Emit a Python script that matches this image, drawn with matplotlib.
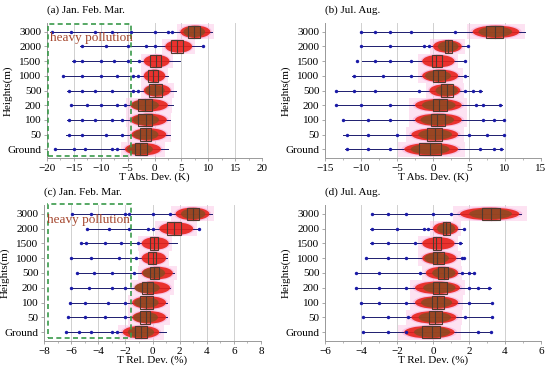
"""
Temperature deviation by height: winter (Jan-Mar) vs summer (Jul-Aug),
absolute (K) and relative (%) deviations, box + swarm + outliers per level.
"""
import numpy as np
import matplotlib.pyplot as plt
from matplotlib.patches import Rectangle, Ellipse

plt.rcParams["font.family"] = ["Liberation Serif", "DejaVu Serif"]

heights = ["Ground", "50", "100", "200", "500", "1000", "1500", "2000", "3000"]

# --- (a) Jan. Feb. Mar., absolute deviation (K); rows Ground -> 3000
a_q1 = [-3.6, -2.7, -3.1, -3.1, -1.0, -1.2, -0.8, 3.1, 6.3]
a_med = [-2.7, -1.6, -1.6, -1.7, 0.1, -0.2, 0.3, 4.2, 7.4]
a_q3 = [-1.4, -0.7, -0.5, -0.5, 1.4, 0.7, 1.2, 5.3, 8.4]
a_lo = [-18.5, -16.4, -16.3, -15.6, -16.3, -17.2, -15.4, -13.8, -19.4]
a_hi = [2.6, 2.8, 2.9, 3.5, 4.0, 2.6, 4.8, 9.1, 10.7]
a_core_lo = [-5.5, -4.3, -4.5, -4.5, -2.0, -2.0, -2.0, 2.0, 4.8]
a_core_hi = [1.2, 2.2, 2.3, 2.5, 3.0, 2.0, 2.8, 7.0, 10.4]
a_out = [[-18.5, -15, -13, -8, -7],
         [-16, -13.5, -9, -6],
         [-16, -13.5, -11, -8, -6],
         [-15.5, -12.5, -10, -7, -5.5],
         [-16, -13.5, -11, -8, -4, -3],
         [-17, -13.5, -10, -7, -4, -3],
         [-15, -13.5, -10, -7.5, -5, -2.8],
         [-13.5, -9, -5, -1.5, 0, 9],
         [-19, -15.5, -11, -8, -4.3, 0, 2.5, 3.2]]

# --- (b) Jul. Aug., absolute deviation (K)
b_q1 = [-1.9, -0.8, -0.3, 0.0, 1.1, 0.0, -0.1, 1.6, 7.35]
b_med = [-0.4, 0.3, 0.6, 0.8, 1.9, 0.7, 0.4, 2.1, 8.65]
b_q3 = [1.1, 1.2, 1.6, 1.9, 2.8, 1.7, 1.3, 2.6, 9.7]
b_lo = [-12.2, -12.5, -12.7, -13.6, -13.6, -11.3, -9.8, -10.0, -9.8]
b_hi = [9.7, 9.9, 9.9, 9.6, 6.8, 4.8, 4.6, 4.9, 12.8]
b_core_lo = [-4.0, -3.0, -2.5, -2.5, -0.5, -1.5, -1.5, 0.0, 5.5]
b_core_hi = [3.5, 3.5, 4.0, 4.0, 3.8, 3.5, 3.0, 4.0, 12.0]
b_out = [[-12, -9, -6, 6.5, 8.5, 9.5],
         [-12, -9, -5, 5, 7.5, 9.8],
         [-12.5, -9, -6, 7, 8.5, 9.8],
         [-13.5, -10, -6, 6, 7, 9.3],
         [-13.5, -11, -8, -2, 4.5, 5.5, 6.5],
         [-11, -7, -3, 4.5],
         [-10.5, -8, -6, -3, 4.5],
         [-10, -6, -1.2, -0.5, 4.8],
         [-10, -8, -6, -3, 3]]

# --- (c) Jan. Feb. Mar., relative deviation (%)
c_q1 = [-1.3, -0.9, -0.9, -0.75, -0.2, -0.3, -0.15, 1.1, 2.55]
c_med = [-0.85, -0.5, -0.45, -0.4, 0.1, 0.0, 0.1, 1.6, 3.0]
c_q3 = [-0.4, -0.15, 0.0, 0.02, 0.5, 0.27, 0.4, 2.1, 3.4]
c_lo = [-6.4, -6.2, -6.1, -6.0, -5.6, -6.1, -5.3, -4.8, -5.9]
c_hi = [1.0, 1.1, 1.1, 1.3, 1.6, 1.1, 1.8, 3.4, 4.4]
c_core_lo = [-2.2, -1.5, -1.5, -1.3, -0.8, -0.8, -0.8, 0.5, 1.7]
c_core_hi = [0.5, 1.0, 1.0, 1.3, 1.5, 1.0, 1.2, 3.0, 4.2]
c_out = [[-6.4, -5.4, -4.5, -3, -2.6],
         [-6.2, -5, -3.5, -2],
         [-6.1, -5, -3.3, -2],
         [-6, -4.7, -3, -2],
         [-5.6, -4.3, -3, -1.4],
         [-6, -4.5, -2.5, -1.2],
         [-5.3, -4.9, -3.5, -2.3, -1.1],
         [-4.8, -3.2, -1.7, -0.3, 0, 3.4],
         [-5.9, -4.5, -2, -1.7, 0, 1.3]]

# --- (d) Jul. Aug., relative deviation (%)
d_q1 = [-0.6, -0.25, -0.05, 0.0, 0.3, 0.0, 0.0, 0.55, 2.7]
d_med = [-0.05, 0.1, 0.2, 0.35, 0.6, 0.2, 0.15, 0.73, 3.2]
d_q3 = [0.4, 0.5, 0.6, 0.75, 0.85, 0.6, 0.45, 0.95, 3.7]
d_lo = [-3.9, -3.9, -4.05, -4.3, -4.3, -3.7, -3.5, -3.5, -3.4]
d_hi = [3.15, 3.35, 3.35, 3.2, 2.3, 1.7, 1.6, 1.75, 4.9]
d_core_lo = [-1.6, -1.2, -1.0, -1.0, -0.4, -0.6, -0.6, 0.0, 1.5]
d_core_hi = [1.2, 1.3, 1.4, 1.5, 1.4, 1.3, 1.2, 1.4, 4.8]
d_out = [[-3.9, -2.5, -1.5, 2.5, 3.2],
         [-3.9, -2.5, -1.4, 1.8, 3.3],
         [-4, -3, -1.5, 2, 3.3],
         [-4.3, -3, -1.5, 2, 2.5, 3.1],
         [-4.3, -3, -0.7, 1.6, 2, 2.3],
         [-3.7, -2.5, -1.5, 1.6, 1.7],
         [-3.4, -2.5, -1, 1.5],
         [-3.4, -2, -0.5, -0.3, 1.7],
         [-3.4, -2.5, -1.5, 0, 1]]

# whether the swarm centre looks brown (True) or plain red (False); style only
win_brown = [True, True, True, True, True, False, False, False, True]
sum_brown = [True, True, True, True, True, True, False, True, True]
RED, BROWN, PINK = "#e8231a", "#8b4a22", "#fbc0e3"

fig = plt.figure(figsize=(5.5, 3.7), dpi=100)
W, H = 550, 370


def px_axes(l, t, r, b):
    return fig.add_axes([l / W, 1 - b / H, (r - l) / W, (b - t) / H])


def panel(ax, q1, med, q3, lo, hi, clo, chi, outs, brown, xlim, xticks, xlabel, title):
    ys = np.arange(len(heights))
    for y in ys:
        span = chi[y] - clo[y]
        cx = (chi[y] + clo[y]) / 2
        ax.add_patch(Rectangle((clo[y] - span * 0.12, y - 0.5), span * 1.24, 1.0,
                               fc=PINK, ec="none", alpha=0.45, zorder=1))
        ax.add_patch(Ellipse((cx, y), span * 1.1, 1.0, fc=PINK, ec="none", zorder=1))
        ax.plot([lo[y], hi[y]], [y, y], color="#1c1c6e", lw=0.7, zorder=2)
        ax.add_patch(Ellipse((cx, y), span, 0.85, fc=RED, ec="none", alpha=0.9, zorder=3))
        if brown[y]:
            ax.add_patch(Ellipse((med[y], y), span * 0.72, 0.72, fc=BROWN, ec="none",
                                 alpha=0.85, zorder=3))
        ax.scatter(outs[y], [y] * len(outs[y]), s=6, color="#1a1aa8", lw=0, zorder=4)
        ax.add_patch(Rectangle((q1[y], y - 0.42), q3[y] - q1[y], 0.84, fc="none",
                               ec="#4e3a30", lw=0.8, zorder=5))
        ax.plot([med[y], med[y]], [y - 0.42, y + 0.42], color="#4e3a30", lw=0.8, zorder=5)
    ax.set_xlim(*xlim)
    ax.set_ylim(-0.6, 8.6)
    ax.set_xticks(xticks)
    ax.set_xticks([(a + b) / 2 for a, b in zip(xticks[:-1], xticks[1:])], minor=True)
    ax.set_yticks(ys)
    ax.set_yticklabels(heights)
    ax.grid(axis="x", color="#d0d0d0", lw=0.7, zorder=0)
    ax.set_axisbelow(True)
    for sp in ("top", "right"):
        ax.spines[sp].set_visible(False)
    for sp in ("left", "bottom"):
        ax.spines[sp].set_color("#9a9a9a")
        ax.spines[sp].set_linewidth(0.7)
    ax.tick_params(axis="both", labelsize=8, length=2.5, width=0.6, color="#9a9a9a", pad=1.5)
    ax.tick_params(axis="x", which="minor", length=1.5, width=0.5, color="#9a9a9a")
    ax.set_xlabel(xlabel, fontsize=8, labelpad=0)
    ax.set_ylabel("Heights(m)", fontsize=8)
    ax.yaxis.set_label_coords(-0.16, 0.5)
    ax.text(0.0, 1.06, title, transform=ax.transAxes, fontsize=8, ha="left", va="bottom")


axA = px_axes(47, 23, 262, 158)
axB = px_axes(325, 23, 541, 158)
axC = px_axes(44, 205, 261, 341)
axD = px_axes(325, 205, 541, 341)

panel(axA, a_q1, a_med, a_q3, a_lo, a_hi, a_core_lo, a_core_hi, a_out, win_brown,
      (-20, 20), list(range(-20, 21, 5)), "T Abs. Dev. (K)", "(a) Jan. Feb. Mar.")
panel(axB, b_q1, b_med, b_q3, b_lo, b_hi, b_core_lo, b_core_hi, b_out, sum_brown,
      (-15, 15), list(range(-15, 16, 5)), "T Abs. Dev. (K)", "(b) Jul. Aug.")
panel(axC, c_q1, c_med, c_q3, c_lo, c_hi, c_core_lo, c_core_hi, c_out, win_brown,
      (-8, 8), list(range(-8, 9, 2)), "T Rel. Dev. (%)", "(c) Jan. Feb. Mar.")
panel(axD, d_q1, d_med, d_q3, d_lo, d_hi, d_core_lo, d_core_hi, d_out, sum_brown,
      (-6, 6), list(range(-6, 7, 2)), "T Rel. Dev. (%)", "(d) Jul. Aug.")

# heavy pollution boxes
axA.add_patch(Rectangle((-19.8, -0.48), 15.4, 9.0, fc="none", ec="#3a9a4a", lw=1.2,
                        ls=(0, (3, 2)), zorder=6, clip_on=False))
axA.text(-19.4, 7.6, "heavy pollution", fontsize=9.5, color="#a4452c", va="center", zorder=7)
axC.add_patch(Rectangle((-7.7, -0.4), 6.1, 9.1, fc="none", ec="#3a9a4a", lw=1.2,
                        ls=(0, (3, 2)), zorder=6, clip_on=False))
axC.text(-7.75, 7.6, "heavy pollution", fontsize=9.5, color="#a4452c", va="center", zorder=7)

fig.savefig("out.png", dpi=100, facecolor="white")
print("Wrote out.png")
